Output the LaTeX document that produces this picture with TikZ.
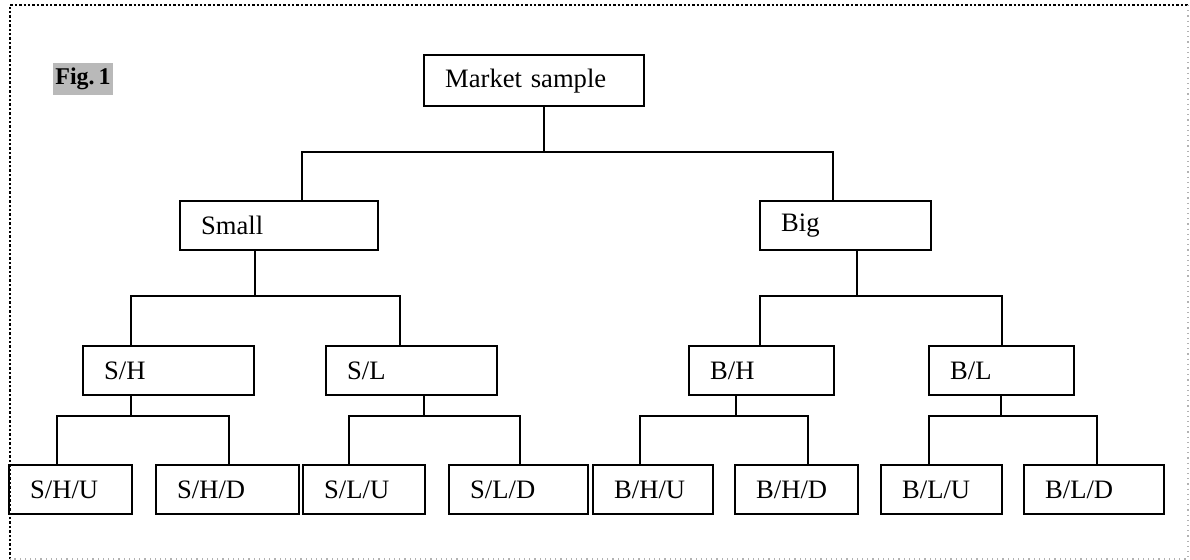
\documentclass[tikz,border=0pt]{standalone}
\usepackage{fontspec}
\setmainfont{Liberation Serif}
\usepackage{tikz}
\usetikzlibrary{positioning,calc}

\begin{document}
\begin{tikzpicture}[
    x=0.5pt, y=-0.5pt,
    font=\fontsize{13.3}{15}\selectfont,
    box/.style={rectangle, draw, line width=1.2pt, minimum height=24.5pt, inner xsep=10.5pt, inner ysep=0pt, align=left, anchor=north west, text width=#1},
    link/.style={line width=1.2pt}
]
\useasboundingbox (0,0) rectangle (1190,560);

% Frame
\draw[densely dotted, line width=1.2pt] (10,559) -- (10,5) -- (1188,5);
\draw[dotted, gray!60, line width=0.6pt] (1188,5) -- (1188,559) -- (10,559);

% Figure tag
\node[fill=gray!55, inner xsep=1pt, inner ysep=2.5pt, font=\fontsize{12}{14}\selectfont\bfseries] (tag) at (83,79) {Fig.\,1};

% Root
\node[box=89pt, minimum height=25.5pt] (ms) at (423,54) {Market sample};

% Size
\node[box=78pt] (sm) at (179,200) {Small};
\node[box=64.5pt] (bg) at (759,200) {Big};

% Book-to-market
\node[box=64.5pt] (sh) at (82,345) {S/H};
\node[box=64.5pt] (sl) at (325,345) {S/L};
\node[box=51.5pt] (bh) at (688,345) {B/H};
\node[box=51.5pt] (bl) at (928,345) {B/L};

% Up / down
\node[box=40.5pt] (shu) at (8,464) {S/H/U};
\node[box=50.5pt] (shd) at (155,464) {S/H/D};
\node[box=40pt] (slu) at (302,464) {S/L/U};
\node[box=48.5pt] (sld) at (448,464) {S/L/D};
\node[box=39pt] (bhu) at (592,464) {B/H/U};
\node[box=40.5pt] (bhd) at (734,464) {B/H/D};
\node[box=39.5pt] (blu) at (880,464) {B/L/U};
\node[box=49pt] (bld) at (1023,464) {B/L/D};

% Junctions
\coordinate (j0) at (544,152);
\coordinate (j1) at (255,296);
\coordinate (j2) at (857,296);
\coordinate (j3) at (131,416);
\coordinate (j4) at (424,416);
\coordinate (j5) at (736,416);
\coordinate (j6) at (1001,416);

% Links
\draw[link] (ms.south -| j0) -- (j0);
\draw[link] ([xshift=61.5pt]sm.north west) |- (j0) -| ([xshift=37pt]bg.north west);

\draw[link] (sm.south -| j1) -- (j1);
\draw[link] ([xshift=24.5pt]sh.north west) |- (j1) -| ([xshift=37.5pt]sl.north west);
\draw[link] (bg.south -| j2) -- (j2);
\draw[link] ([xshift=36pt]bh.north west) |- (j2) -| ([xshift=37pt]bl.north west);

\draw[link] (sh.south -| j3) -- (j3);
\draw[link] ([xshift=24.5pt]shu.north west) |- (j3) -| ([xshift=37pt]shd.north west);
\draw[link] (sl.south -| j4) -- (j4);
\draw[link] ([xshift=23.5pt]slu.north west) |- (j4) -| ([xshift=36pt]sld.north west);
\draw[link] (bh.south -| j5) -- (j5);
\draw[link] ([xshift=24pt]bhu.north west) |- (j5) -| ([xshift=37pt]bhd.north west);
\draw[link] (bl.south -| j6) -- (j6);
\draw[link] ([xshift=24.5pt]blu.north west) |- (j6) -| ([xshift=37pt]bld.north west);

\end{tikzpicture}
\end{document}
